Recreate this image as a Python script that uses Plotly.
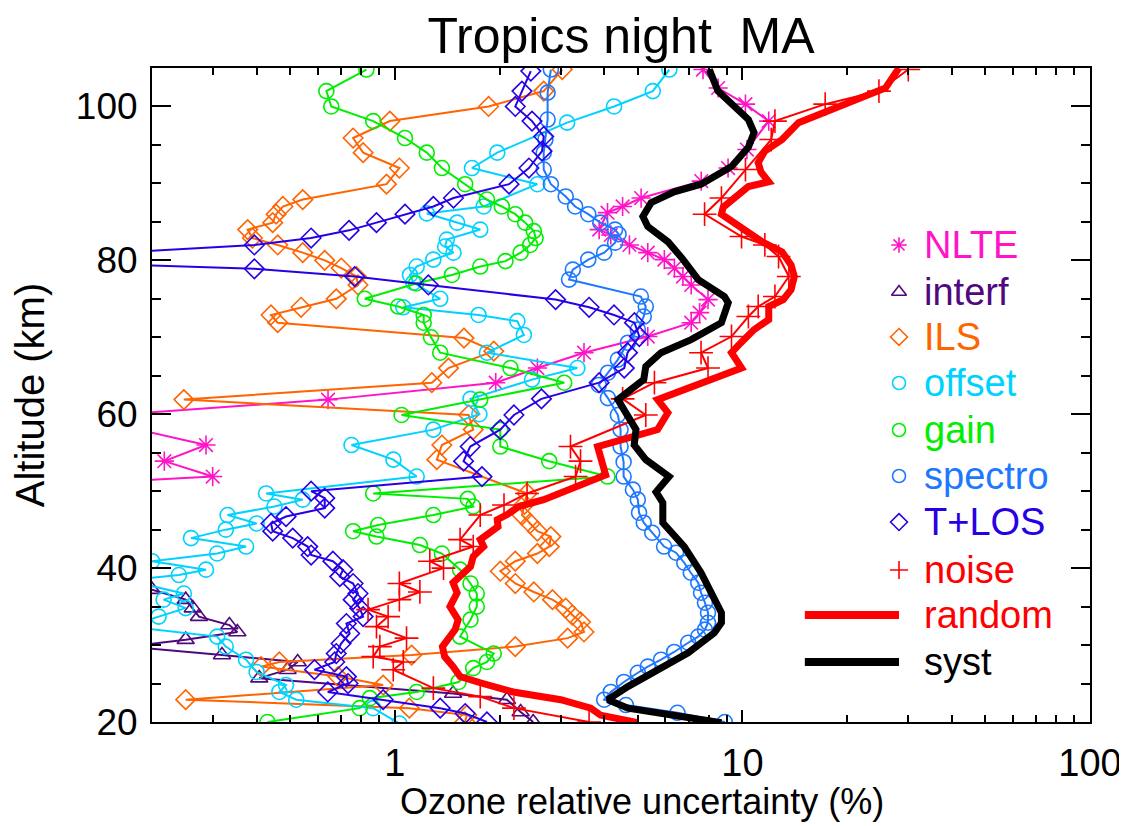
import math
import plotly.graph_objects as go

# ---------------- data (altitude km, relative uncertainty %) ----------------
alt_nlte = [104.8, 102.4, 100.3, 98.1, 94.4, 92.0, 90.3, 88.1, 87.0, 86.2, 84.0, 83.3, 82.0, 81.0, 80.1, 79.0,
            77.9, 76.8, 74.9, 73.2, 71.9, 70.1, 68.0, 66.0, 64.1, 61.9, 60.0, 58.0, 56.0, 53.9, 51.9, 50.0]
val_nlte = [7.70, 8.51, 10.2, 11.9, 10.3, 9.09, 7.61, 5.11, 4.52, 4.09, 3.87, 4.18, 4.73, 5.34, 5.96, 6.37,
            6.74, 7.12, 7.96, 7.53, 7.12, 5.34, 3.50, 2.57, 1.95, 0.642, 0.167, 0.183, 0.286, 0.217, 0.299, 0.05]

alt_interf = [39.0, 37.2, 35.9, 34.8, 33.7, 32.6, 31.7, 30.7, 29.8, 28.7, 27.8, 26.8, 25.7, 23.7, 22.9, 21.3, 20.0]
val_interf = [0.12, 0.20, 0.25, 0.262, 0.273, 0.334, 0.352, 0.25, 0.17, 0.318, 0.525, 0.491, 0.407, 1.47, 2.10, 2.3, 2.5]

alt_ils = [104.8, 102.0, 100.0, 98.1, 95.9, 94.0, 92.0, 89.9, 87.9, 87.0, 86.0, 84.9, 84.0, 82.9, 82.0, 81.0,
           80.0, 79.0, 77.9, 76.8, 75.0, 73.9, 72.9, 71.9, 69.9, 68.2, 66.0, 64.1, 61.9, 59.9, 58.0, 56.0,
           54.1, 49.7, 48.3, 46.9, 45.8, 44.8, 44.1, 42.8, 41.9, 40.9, 39.6, 38.0, 36.9, 35.9, 34.8, 33.9,
           33.0, 31.7, 30.9, 29.8, 28.7, 27.8, 27.2, 25.9, 24.8, 22.9, 21.8, 20.9, 20.0]
val_ils = [3.03, 2.68, 1.86, 0.967, 0.758, 0.81, 1.03, 0.946, 0.543, 0.476, 0.455, 0.445, 0.377, 0.389, 0.46, 0.543,
           0.628, 0.701, 0.775, 0.783, 0.678, 0.537, 0.44, 0.46, 1.58, 1.925, 1.426, 1.277, 0.247, 1.63, 1.68, 1.365,
           1.32, 2.40, 2.36, 2.32, 2.45, 2.57, 2.81, 2.78, 2.57, 2.22, 2.01, 2.22, 2.51, 2.84, 3.10, 3.24,
           3.42, 3.5, 3.14, 2.22, 1.117, 0.465, 0.412, 0.686, 0.925, 0.25, 1.10, 1.61, 1.59]

alt_offset = [104.8, 102.0, 100.0, 97.9, 94.0, 92.0, 89.9, 87.0, 86.1, 84.9, 84.0, 82.7, 81.8, 81.0, 80.1, 79.2,
              78.1, 77.1, 75.0, 73.9, 72.9, 72.1, 70.3, 68.0, 66.0, 64.5, 62.0, 60.0, 58.0, 56.0, 54.1, 51.9,
              49.7, 48.9, 48.0, 46.9, 45.8, 45.0, 43.9, 42.8, 41.9, 40.9, 39.8, 39.1, 38.4, 36.7, 35.9, 34.8,
              33.7, 32.4, 31.1, 29.8, 28.1, 26.5, 24.8, 23.9, 22.9, 21.8, 19.8]
val_offset = [6.16, 5.52, 4.27, 3.13, 1.97, 1.666, 2.57, 1.80, 1.235, 1.51, 1.76, 1.41, 1.395, 1.474, 1.29, 1.155,
              1.105, 1.13, 1.35, 1.057, 1.74, 2.25, 2.35, 1.84, 3.35, 2.48, 1.65, 1.75, 1.29, 0.75, 0.99, 1.155,
              0.426, 0.543, 0.45, 0.33, 0.40, 0.326, 0.259, 0.373, 0.308, 0.2, 0.286, 0.239, 0.17, 0.247, 0.216, 0.25,
              0.209, 0.17, 0.308, 0.326, 0.373, 0.40, 0.486, 0.465, 0.52, 0.866, 1.03]

alt_gain = [104.8, 102.0, 100.0, 98.1, 95.9, 94.0, 92.0, 89.9, 87.9, 87.0, 86.0, 84.9, 83.8, 82.9, 82.0, 81.0,
            79.9, 79.2, 78.1, 77.0, 75.0, 74.0, 72.9, 71.9, 70.0, 68.0, 66.0, 64.1, 61.9, 59.9, 58.0, 55.8,
            53.9, 51.9, 49.7, 49.0, 48.0, 46.9, 45.6, 44.8, 44.1, 43.0, 41.9, 39.8, 38.0, 36.7, 35.0, 33.3,
            31.1, 28.9, 27.8, 27.0, 25.2, 23.9, 23.1, 21.8, 20.0]
val_gain = [0.828, 0.635, 0.656, 0.866, 1.069, 1.235, 1.365, 1.593, 1.84, 2.03, 2.22, 2.37, 2.51, 2.54, 2.45, 2.30,
            2.08, 1.76, 1.459, 1.15, 0.819, 1.022, 1.21, 1.21, 1.27, 1.35, 2.15, 3.07, 1.76, 1.045, 2.01, 2.01,
            2.78, 4.09, 0.866, 1.62, 1.68, 1.29, 0.895, 0.758, 0.885, 1.18, 1.365, 1.54, 1.65, 1.72, 1.72, 1.65,
            1.54, 1.925, 1.84, 1.68, 1.525, 1.155, 0.847, 0.792, 0.43]

alt_spectro = [104.8, 101.8, 98.3, 95.7, 94.0, 91.8, 89.9, 88.3, 87.0, 86.0, 84.9, 84.0, 83.4, 82.3, 81.0, 80.1,
               78.8, 77.5, 75.3, 74.0, 72.7, 71.0, 69.3, 67.1, 65.4, 63.8, 62.1, 59.9, 58.0, 55.8, 53.8, 51.9,
               50.2, 48.9, 47.2, 45.9, 44.6, 42.8, 42.0, 40.7, 39.4, 38.1, 36.8, 35.5, 34.2, 32.9, 32.0, 31.1,
               30.3, 29.1, 28.1, 27.2, 26.4, 25.2, 23.9, 22.9, 22.2, 21.2, 20.0]
val_spectro = [2.81, 2.75, 2.75, 2.71, 2.68, 2.68, 2.81, 3.1, 3.3, 3.6, 3.9, 4.3, 4.4, 4.3, 4.0, 3.6,
               3.25, 3.17, 5.1, 5.27, 5.2, 5.0, 4.68, 4.38, 4.1, 3.86, 4.1, 4.38, 4.46, 4.46, 4.55, 4.55,
               4.84, 5.0, 5.04, 5.2, 5.5, 5.95, 6.44, 6.8, 7.1, 7.46, 7.6, 7.8, 7.96, 7.96, 7.8, 7.46,
               6.98, 6.36, 5.83, 5.34, 5.0, 4.56, 4.18, 4.0, 4.62, 6.5, 8.9]

alt_tlos = [104.6, 102.0, 100.0, 98.1, 96.1, 94.2, 92.0, 89.9, 88.1, 87.0, 86.0, 84.9, 83.9, 82.9, 82.0, 80.0,
            78.9, 77.9, 76.8, 74.9, 73.9, 72.9, 71.9, 70.1, 68.0, 66.0, 64.1, 62.0, 59.9, 58.0, 55.8, 53.9,
            51.9, 50.0, 49.1, 47.8, 46.7, 45.8, 44.8, 43.9, 42.8, 41.7, 40.9, 39.8, 38.9, 38.0, 36.7, 35.9,
            34.8, 33.7, 32.8, 31.5, 30.2, 28.9, 27.8, 26.8, 25.9, 25.0, 23.9, 22.9, 21.8, 21.1, 20.0]
val_tlos = [2.46, 2.32, 2.22, 2.48, 2.68, 2.65, 2.43, 2.13, 1.474, 1.29, 1.069, 0.885, 0.738, 0.574, 0.394, 0.067,
            0.394, 0.766, 1.248, 2.90, 3.62, 4.27, 4.89, 5.05, 4.67, 4.57, 3.87, 2.64, 2.2, 2.01, 1.647, 1.576,
            1.78, 0.574, 0.628, 0.628, 0.486, 0.44, 0.445, 0.508, 0.561, 0.574, 0.663, 0.709, 0.694, 0.758, 0.783, 0.758,
            0.792, 0.81, 0.725, 0.741, 0.70, 0.678, 0.671, 0.587, 0.725, 0.733, 0.641, 0.925, 1.35, 1.593, 1.84]

alt_noise = [104.8, 102.0, 100.3, 98.1, 95.7, 91.8, 88.1, 86.0, 83.1, 82.0, 80.5, 77.9, 75.3, 74.0, 72.7, 70.1,
             68.0, 66.0, 64.1, 62.0, 59.9, 55.8, 53.9, 51.9, 49.7, 48.2, 46.9, 43.7, 42.8, 40.9, 40.0, 38.0,
             36.9, 35.9, 34.6, 33.7, 32.4, 30.9, 29.8, 28.5, 27.8, 26.8, 24.4, 23.3, 21.8, 20.0]
val_noise = [30.0, 24.7, 17.3, 12.4, 12.1, 10.2, 8.7, 7.78, 9.94, 11.6, 12.7, 13.6, 12.4, 11.1, 10.4, 9.3,
             7.6, 7.96, 5.58, 4.52, 5.27, 3.2, 3.42, 3.31, 2.40, 2.06, 1.76, 1.54, 1.68, 1.26, 1.38, 1.03,
             1.18, 1.03, 0.837, 0.956, 0.885, 1.08, 0.905, 0.866, 1.057, 0.989, 1.29, 1.76, 2.2, 3.62]

alt_random = [105.0, 102.4, 97.9, 95.7, 94.2, 92.7, 91.5, 90.2, 89.6, 87.9, 86.9, 86.0, 84.9, 82.4, 81.1, 79.4,
              77.9, 76.2, 74.9, 74.0, 72.3, 71.0, 69.3, 68.0, 66.0, 64.1, 61.9, 60.2, 58.0, 55.8, 52.1, 48.9,
              48.0, 47.0, 46.3, 45.4, 43.7, 42.8, 41.5, 40.2, 38.9, 38.1, 36.8, 35.0, 33.3, 32.0, 29.8, 28.5,
              27.2, 25.9, 25.1, 23.9, 22.9, 21.8, 20.9, 19.9]
val_random = [28.2, 25.8, 14.5, 13.0, 11.6, 11.1, 11.3, 11.9, 10.4, 9.3, 8.8, 8.7, 9.5, 11.4, 13.0, 13.8,
              14.1, 13.8, 13.1, 11.9, 11.9, 10.8, 9.9, 9.3, 9.94, 7.6, 5.7, 6.1, 5.7, 3.83, 4.04, 2.68,
              2.27, 2.11, 1.97, 1.98, 1.76, 1.80, 1.68, 1.65, 1.54, 1.47, 1.51, 1.44, 1.52, 1.49, 1.37, 1.39,
              1.47, 1.54, 1.76, 2.19, 3.0, 3.66, 3.9, 5.0]

alt_syst = [104.8, 102.0, 98.3, 96.6, 94.7, 92.2, 89.9, 88.9, 87.5, 85.7, 84.4, 82.4, 80.1, 77.5, 75.3, 74.5,
            71.9, 69.7, 68.0, 66.2, 64.5, 61.9, 58.0, 56.0, 54.1, 51.9, 49.9, 48.5, 45.9, 42.8, 39.4, 36.3,
            34.2, 32.9, 31.6, 29.0, 26.4, 24.6, 22.9, 21.8, 19.9]
val_syst = [8.03, 8.5, 10.4, 10.8, 10.4, 9.3, 7.6, 6.36, 5.46, 5.17, 5.34, 6.11, 6.75, 7.46, 8.87, 9.1,
            8.7, 7.12, 5.83, 5.27, 5.2, 4.38, 4.94, 4.88, 5.27, 6.15, 5.64, 5.9, 5.9, 6.8, 7.6, 8.3,
            8.7, 8.7, 8.3, 6.98, 5.46, 4.68, 4.1, 4.68, 8.7]

legend_names = ["NLTE", "interf", "ILS", "offset", "gain", "spectro", "T+LOS", "noise", "random", "syst"]
x_tick_labels = ["1", "10", "100"]
y_tick_values = [20, 40, 60, 80, 100]

# ---------------- styles ----------------
C_NLTE, C_INTERF, C_ILS, C_OFFSET = "#ff14c8", "#50087f", "#ff6400", "#00d2ff"
C_GAIN, C_SPECTRO, C_TLOS, C_RED, C_BLACK = "#00ee00", "#1e78ff", "#2800e6", "#ff0000", "#000000"

series = [
    (alt_nlte, val_nlte, C_NLTE, "asterisk-open", 16),
    (alt_interf, val_interf, C_INTERF, "triangle-up-open", 15),
    (alt_ils, val_ils, C_ILS, "diamond-open", 15),
    (alt_offset, val_offset, C_OFFSET, "circle-open", 15),
    (alt_gain, val_gain, C_GAIN, "circle-open", 15),
    (alt_spectro, val_spectro, C_SPECTRO, "circle-open", 15),
    (alt_tlos, val_tlos, C_TLOS, "diamond-open", 15),
    (alt_noise, val_noise, C_RED, "cross-thin-open", 17),
]

FONT = "Liberation Sans, Arial, Helvetica, sans-serif"
fig = go.Figure()

for (alts, vals, col, sym, sz) in series:
    fig.add_trace(go.Scatter(
        x=vals, y=alts, mode="lines+markers",
        line=dict(color=col, width=2),
        marker=dict(symbol=sym, size=sz, color=col, line=dict(color=col, width=1.6)),
        hoverinfo="skip"))

fig.add_trace(go.Scatter(x=val_random, y=alt_random, mode="lines",
                         line=dict(color=C_RED, width=7), hoverinfo="skip"))
fig.add_trace(go.Scatter(x=val_syst, y=alt_syst, mode="lines",
                         line=dict(color=C_BLACK, width=7), hoverinfo="skip"))

# ---------------- legend (manual, inside plot) ----------------
leg_colors = [C_NLTE, C_INTERF, C_ILS, C_OFFSET, C_GAIN, C_SPECTRO, C_TLOS, C_RED, C_RED, C_BLACK]
leg_symbols = ["asterisk-open", "triangle-up-open", "diamond-open", "circle-open", "circle-open",
               "circle-open", "diamond-open", "cross-thin-open"]
leg_y = [0.7294, 0.6575, 0.5887, 0.5183, 0.4465, 0.3761, 0.3058, 0.2324, 0.1636, 0.0917]
mx, tx = 0.7964, 0.821

for i, sym in enumerate(leg_symbols):
    fig.add_trace(go.Scatter(x=[mx], y=[leg_y[i]], xaxis="x2", yaxis="y2", mode="markers",
                             marker=dict(symbol=sym, size=13, color=leg_colors[i],
                                         line=dict(color=leg_colors[i], width=1.6)),
                             hoverinfo="skip"))
for i in (8, 9):
    fig.add_shape(type="line", xref="paper", yref="paper", x0=0.696, x1=mx, y0=leg_y[i], y1=leg_y[i],
                  line=dict(color=leg_colors[i], width=8))
for i, name in enumerate(legend_names):
    fig.add_annotation(x=tx, y=leg_y[i], xref="paper", yref="paper", text=name, showarrow=False,
                       xanchor="left", yanchor="middle", font=dict(family=FONT, size=38, color=leg_colors[i]))

# x-axis title (sits slightly right of centre in the original)
fig.add_annotation(x=0.5224, y=-0.121, xref="paper", yref="paper", text="Ozone relative uncertainty (%)",
                   showarrow=False, xanchor="center", yanchor="middle",
                   font=dict(family=FONT, size=36, color="black"))

minor_x = [v * d for d in (0.1, 1, 10) for v in range(2, 10)]
minor_x = [m for m in minor_x if m >= 0.2]

# page body adds an 8 px offset; size the figure so the plot box lands where the reference has it
W, H = 1119, 818
fig.update_layout(
    width=W, height=H,
    margin=dict(l=144, r=37, t=60, b=104, autoexpand=False),
    plot_bgcolor="white", paper_bgcolor="white",
    showlegend=False,
    font=dict(family=FONT, color="black"),
    title=dict(text="Tropics night\u00a0 MA", x=0.5, xref="paper", xanchor="center",
               y=1 - 27 / H, yref="container", yanchor="middle",
               font=dict(family=FONT, size=50, color="black")),
    xaxis=dict(type="log", range=[math.log10(0.2), 2], tickvals=[1, 10, 100], ticktext=x_tick_labels,
               ticks="inside", ticklen=12, tickwidth=2, tickcolor="black", automargin=False,
               ticklabelstandoff=6,
               showline=True, linewidth=2, linecolor="black", mirror="ticks",
               showgrid=False, zeroline=False, tickfont=dict(size=38, family=FONT),
               minor=dict(tickvals=minor_x, ticks="inside", ticklen=7, tickwidth=2, tickcolor="black",
                          showgrid=False)),
    yaxis=dict(range=[20, 105], tickvals=y_tick_values,
               ticks="inside", ticklen=19, tickwidth=2, tickcolor="black", automargin=False,
               ticklabelstandoff=5,
               showline=True, linewidth=2, linecolor="black", mirror="ticks",
               showgrid=False, zeroline=False, tickfont=dict(size=37, family=FONT),
               minor=dict(dtick=5, ticks="inside", ticklen=9, tickwidth=2, tickcolor="black", showgrid=False),
               title=dict(text="Altitude (km)", font=dict(size=40, family=FONT), standoff=22)),
    xaxis2=dict(overlaying="x", range=[0, 1], visible=False),
    yaxis2=dict(overlaying="y", range=[0, 1], visible=False),
)

fig.write_html("out.html")
